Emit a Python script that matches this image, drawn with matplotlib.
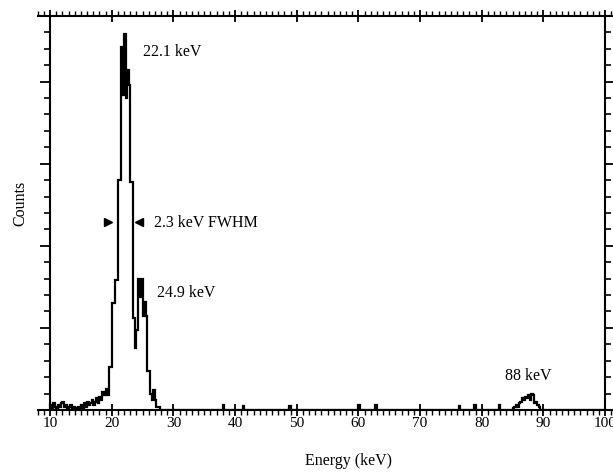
import numpy as np
import matplotlib
matplotlib.use("Agg")
import matplotlib.pyplot as plt
from matplotlib.ticker import MultipleLocator

# spectrum, 0.25 keV bins
bin_width = 0.25
low_start = 10.0
low_counts = [
    0.3, 0.1, 0.4, 0.2,   0.1, 0.3, 0.2, 0.4,   0.5, 0.2, 0.3, 0.1,   # 10-13
    0.2, 0.3, 0.1, 0.2,   0.1, 0.0, 0.2, 0.1,   0.3, 0.1, 0.4, 0.2,   # 13-16
    0.5, 0.3, 0.4, 0.6,   0.3, 0.5, 0.7, 0.4,   0.8, 0.6, 1.1, 0.9,   # 16-19
    1.3, 0.9, 2.6, 2.6,   6.5, 6.5, 7.9, 7.9,   14.0, 14.0, 22.1, 19.2,  # 19-22
    22.9, 19.0, 20.7, 19.8,   13.9, 13.9, 5.6, 3.8,   4.9, 8.0, 6.9, 8.0,  # 22-25
    5.7, 6.6, 5.7, 2.4,   2.4, 1.0, 0.6, 1.2,   0.6, 0.2, 0.2, 0.0,   # 25-28
]
high_start = 85.0
high_counts = [0.1, 0.2, 0.3, 0.2, 0.4, 0.5, 0.7, 0.6, 0.8, 0.7, 0.9, 0.6,
               1.0, 0.9, 0.4, 0.5, 0.3, 0.2, 0.0, 0.0]
spike_energies = [38.2, 41.4, 48.8, 60.2, 62.8, 76.4, 78.9, 82.8]
spike_counts = [0.3, 0.25, 0.25, 0.3, 0.3, 0.25, 0.3, 0.3]

edges = np.arange(10.0, 100.0 + bin_width / 2, bin_width)
counts = np.zeros(len(edges) - 1)
i0 = int(round((low_start - 10.0) / bin_width))
counts[i0:i0 + len(low_counts)] = low_counts
i1 = int(round((high_start - 10.0) / bin_width))
counts[i1:i1 + len(high_counts)] = high_counts
for e, c in zip(spike_energies, spike_counts):
    counts[int((e - 10.0) / bin_width)] = c

plt.rcParams['font.family'] = ['Liberation Serif', 'DejaVu Serif']

fig = plt.figure(figsize=(6.13, 4.72), dpi=100)
ax = fig.add_axes([0.0615, 0.1314, 0.9377, 0.8347])

ax.stairs(counts, edges, color='black', linewidth=1.6)

ax.set_xlim(8, 101.2)
ax.set_ylim(0, 24)
ax.spines['left'].set_position(('data', 10))
ax.spines['right'].set_position(('data', 100))
for s in ax.spines.values():
    s.set_linewidth(1.5)

ax.xaxis.set_major_locator(MultipleLocator(10))
ax.xaxis.set_minor_locator(MultipleLocator(1))
ax.yaxis.set_major_locator(MultipleLocator(5))
ax.yaxis.set_minor_locator(MultipleLocator(1))
ax.set_xticks(np.arange(10, 101, 10))
ax.tick_params(axis='x', which='major', direction='inout', length=8, width=1.3,
               top=True, labelsize=11, pad=1)
ax.tick_params(axis='x', which='minor', direction='out', length=3.5, width=1.0, top=True)
ax.tick_params(axis='y', which='major', direction='out', length=7, width=1.3,
               right=True, labelleft=False)
ax.tick_params(axis='y', which='minor', direction='out', length=4, width=1.2, right=True)

fig.text(0.568, 0.023, 'Energy (keV)', fontsize=11.5, ha='center', va='center')
fig.text(0.033, 0.57, 'Counts', rotation=90, fontsize=11.5, ha='center', va='center')

ax.text(25.0, 21.8, '22.1 keV', fontsize=11.5, va='center')
ax.text(26.9, 11.4, '2.3 keV FWHM', fontsize=11.5, va='center')
ax.text(27.4, 7.1, '24.9 keV', fontsize=11.5, va='center')
ax.text(87.5, 2.1, '88 keV', fontsize=11.5, va='center', ha='center')

# FWHM markers
ax.plot([19.4], [11.45], marker='>', color='black', markersize=6)
ax.plot([24.5], [11.45], marker='<', color='black', markersize=6)

fig.savefig('out.png', dpi=100)
